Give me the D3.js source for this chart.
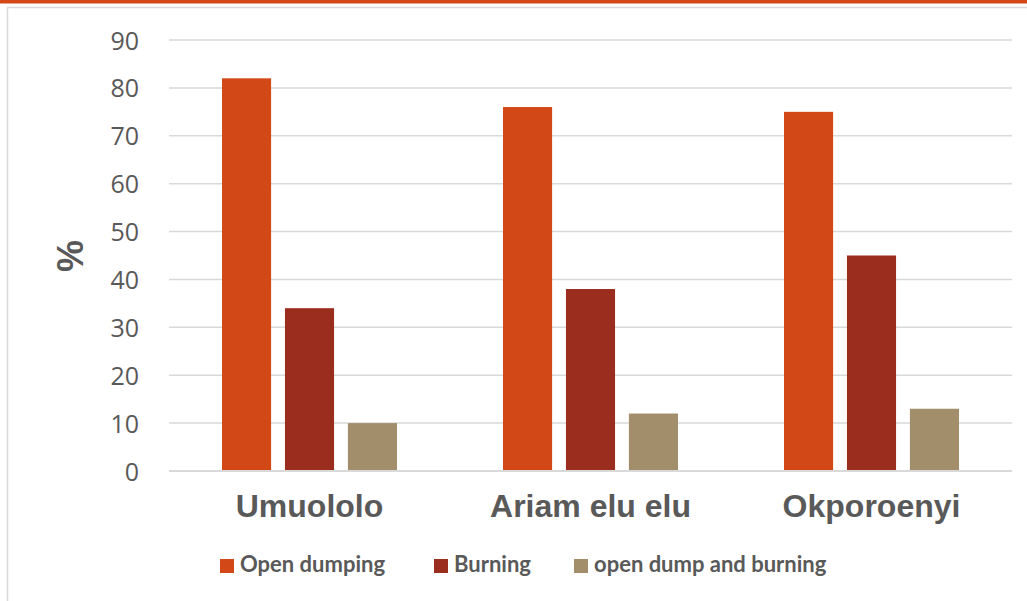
<!DOCTYPE html>
<html>
<head>
<meta charset="utf-8">
<script src="https://cdn.jsdelivr.net/npm/d3@7"></script>
<style>
  html, body { margin: 0; padding: 0; background: #fff; }
  svg { display: block; }
</style>
</head>
<body>
<svg id="chart" width="1027" height="601"></svg>
<script>
// Waste disposal practices by community (%)
const categories = ["Umuololo", "Ariam elu elu", "Okporoenyi"];
const seriesNames = ["Open dumping", "Burning", "open dump and burning"];
const openDumping = [82, 76, 75];
const burning = [34, 38, 45];
const openDumpAndBurning = [10, 12, 13];
const yTicks = [0, 10, 20, 30, 40, 50, 60, 70, 80, 90];
const colors = ["#D34817", "#9B2D1F", "#A28E6A"];

const series = [openDumping, burning, openDumpAndBurning];

const svg = d3.select("#chart");
const W = 1027, H = 601;

// frame: orange band across the top, thin grey frame lines
svg.append("rect").attr("x", 0).attr("y", 0).attr("width", W).attr("height", 3.5).attr("fill", "#D34817");
svg.append("line").attr("x1", 7).attr("x2", W).attr("y1", 7.5).attr("y2", 7.5)
  .attr("stroke", "#d9d9d9").attr("stroke-width", 1.5);
svg.append("line").attr("x1", 7.5).attr("x2", 7.5).attr("y1", 7).attr("y2", H)
  .attr("stroke", "#d9d9d9").attr("stroke-width", 1.5);

const plot = { left: 169, right: 1012, top: 40, bottom: 471 };

const x0 = d3.scaleBand().domain(categories).range([plot.left, plot.right]).paddingInner(0).paddingOuter(0);
const x1 = d3.scaleBand().domain(d3.range(seriesNames.length))
  .range([53, 228]).paddingInner(0.22).paddingOuter(0);
const y = d3.scaleLinear().domain([0, 90]).range([plot.bottom, plot.top]);

// gridlines
svg.append("g").selectAll("line").data(yTicks).join("line")
  .attr("x1", plot.left).attr("x2", plot.right)
  .attr("y1", d => y(d)).attr("y2", d => y(d))
  .attr("stroke", "#d9d9d9").attr("stroke-width", 1.5);

// y axis labels
const yAxis = d3.axisLeft(y).tickValues(yTicks).tickSize(0).tickPadding(0);
const gy = svg.append("g").attr("transform", `translate(139,0)`).call(yAxis);
gy.select(".domain").remove();
gy.selectAll("text")
  .attr("font-family", "'Open Sans', sans-serif")
  .attr("font-size", 25)
  .attr("fill", "#595959")
  .attr("dy", "0.36em");

// bars
const groups = svg.append("g").selectAll("g").data(categories).join("g")
  .attr("transform", c => `translate(${x0(c)},0)`);
groups.selectAll("rect")
  .data((c, ci) => series.map((s, si) => ({ si, v: s[ci] })))
  .join("rect")
  .attr("x", d => x1(d.si))
  .attr("width", x1.bandwidth())
  .attr("y", d => y(d.v))
  .attr("height", d => y(0) - y(d.v))
  .attr("fill", d => colors[d.si]);

// baseline
svg.append("line").attr("x1", plot.left).attr("x2", plot.right)
  .attr("y1", y(0)).attr("y2", y(0)).attr("stroke", "#d9d9d9").attr("stroke-width", 2);

// category labels
const xAxis = d3.axisBottom(x0).tickSize(0).tickPadding(0);
const gx = svg.append("g").attr("transform", `translate(0,${plot.bottom})`).call(xAxis);
gx.select(".domain").remove();
gx.selectAll("text")
  .attr("font-family", "'Liberation Sans', Arial, sans-serif")
  .attr("font-weight", "bold")
  .attr("font-size", 32)
  .attr("fill", "#595959")
  .attr("dy", 0)
  .attr("y", 46);

// y axis title
svg.append("text")
  .attr("transform", "translate(83,256) rotate(-90)")
  .attr("text-anchor", "middle")
  .attr("font-family", "'Liberation Sans', Arial, sans-serif")
  .attr("font-weight", "bold")
  .attr("font-size", 36)
  .attr("fill", "#595959")
  .text("%");

// legend
const legendX = [220, 434, 574];
const legend = svg.append("g").selectAll("g").data(seriesNames).join("g")
  .attr("transform", (d, i) => `translate(${legendX[i]},559)`);
legend.append("rect").attr("width", 14).attr("height", 14).attr("fill", (d, i) => colors[i]);
legend.append("text")
  .attr("x", 20).attr("y", 13)
  .attr("font-family", "Lato, sans-serif")
  .attr("font-weight", "bold")
  .attr("font-size", 22)
  .attr("fill", "#595959")
  .text(d => d);
</script>
</body>
</html>
